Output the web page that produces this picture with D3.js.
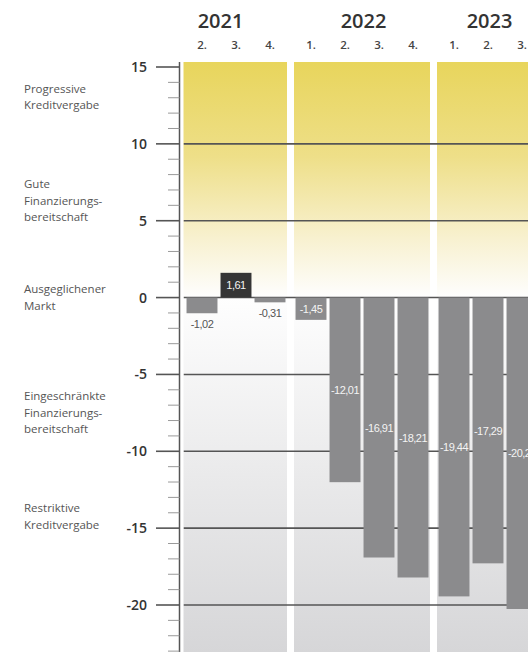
<!DOCTYPE html>
<html>
<head>
<meta charset="utf-8">
<script src="https://cdn.jsdelivr.net/npm/d3@7"></script>
<style>
  html, body { margin: 0; padding: 0; background: #fff; }
  svg { display: block; }
</style>
</head>
<body>
<svg id="chart" width="528" height="652"></svg>
<script>
// Kreditvergabe-Index nach Quartalen
const years = ["2021", "2022", "2023"];
const quarterNames = ["1.", "2.", "3.", "4."];

const periodYear    = ["2021", "2021", "2021", "2022", "2022", "2022", "2022", "2023", "2023", "2023"];
const periodQuarter = ["2.",   "3.",   "4.",   "1.",   "2.",   "3.",   "4.",   "1.",   "2.",   "3."];
const values        = [-1.02,  1.61,  -0.31,  -1.45, -12.01, -16.91, -18.21, -19.44, -17.29, -20.26];

const yTicks = [15, 10, 5, 0, -5, -10, -15, -20];
const yMinorTicks = d3.range(-23, 16, 1);

const zoneLabels = [
  ["Progressive", "Kreditvergabe"],
  ["Gute", "Finanzierungs-", "bereitschaft"],
  ["Ausgeglichener", "Markt"],
  ["Eingeschränkte", "Finanzierungs-", "bereitschaft"],
  ["Restriktive", "Kreditvergabe"]
];
const zoneLevels = [13.05, 6.3, 0, -7.5, -14.25];

const W = 528, H = 652;
const svg = d3.select("#chart");

const y = d3.scaleLinear().domain([-20, 15]).range([605, 67]);
const plotTop = 62, plotBottom = H;
const axisX = 179.5, clipLeft = 183.5;

// Jahre als äußere Bänder, Quartale als innere Bänder
const yearX = d3.scaleBand().domain(years).range([151, 573]).paddingInner(7 / 143);
const qX = d3.scaleBand().domain(quarterNames).range([0, yearX.bandwidth()])
  .paddingInner(0.09).paddingOuter(0.045);

const locale = d3.formatLocale({ decimal: ",", thousands: ".", grouping: [3], currency: ["", " €"], minus: "-" });
const fmtVal = locale.format(".2f");
const fmtTick = locale.format("d");

const defs = svg.append("defs");
const grad = defs.append("linearGradient").attr("id", "bg")
  .attr("gradientUnits", "userSpaceOnUse")
  .attr("x1", 0).attr("x2", 0).attr("y1", plotTop).attr("y2", plotBottom);
const zeroOff = (y(0) - plotTop) / (plotBottom - plotTop);
grad.append("stop").attr("offset", 0).attr("stop-color", "#e8d55c");
grad.append("stop").attr("offset", zeroOff * 0.4).attr("stop-color", "#eedf88");
grad.append("stop").attr("offset", zeroOff * 0.75).attr("stop-color", "#f8f1d0");
grad.append("stop").attr("offset", zeroOff).attr("stop-color", "#fefefe");
grad.append("stop").attr("offset", 1).attr("stop-color", "#d6d6d8");

defs.append("clipPath").attr("id", "plotClip")
  .append("rect").attr("x", clipLeft).attr("y", 0).attr("width", W - clipLeft).attr("height", H);

const plot = svg.append("g").attr("clip-path", "url(#plotClip)");

// Jahresfelder
plot.selectAll("rect.panel").data(years).join("rect")
  .attr("class", "panel")
  .attr("x", d => yearX(d))
  .attr("y", plotTop)
  .attr("width", yearX.bandwidth())
  .attr("height", plotBottom - plotTop)
  .attr("fill", "url(#bg)");

// Gitterlinien
plot.selectAll("line.grid").data(yTicks.filter(t => t < 15)).join("line")
  .attr("class", "grid")
  .attr("x1", clipLeft).attr("x2", W)
  .attr("y1", d => y(d)).attr("y2", d => y(d))
  .attr("stroke", "#555").attr("stroke-width", 1.6);

const bx = i => yearX(periodYear[i]) + qX(periodQuarter[i]);

// Balken
plot.selectAll("rect.bar").data(values).join("rect")
  .attr("class", "bar")
  .attr("x", (d, i) => bx(i))
  .attr("width", qX.bandwidth())
  .attr("y", d => y(Math.max(0, d)))
  .attr("height", d => Math.abs(y(d) - y(0)))
  .attr("fill", d => d >= 0 ? "#353535" : "#8b8b8d");

// Wertbeschriftungen: kleine Balken außen, sonst mittig im Balken
const inside = d => Math.abs(y(d) - y(0)) > 18;
plot.selectAll("text.val").data(values).join("text")
  .attr("class", "val")
  .attr("x", (d, i) => bx(i) + qX.bandwidth() / 2)
  .attr("y", d => inside(d) ? (y(d) + y(0)) / 2 + 4.2 : y(d) + 14.5)
  .attr("text-anchor", "middle")
  .attr("font-family", "'Liberation Sans', sans-serif")
  .attr("font-size", 11)
  .attr("letter-spacing", -0.5)
  .attr("fill", d => inside(d) ? "#f4f4f4" : "#555")
  .text(d => fmtVal(d));

// y-Achse
const axis = svg.append("g");
axis.append("line")
  .attr("x1", axisX).attr("x2", axisX).attr("y1", plotTop).attr("y2", H)
  .attr("stroke", "#555").attr("stroke-width", 1.5);
axis.selectAll("line.minor").data(yMinorTicks.filter(t => t % 5 !== 0)).join("line")
  .attr("class", "minor")
  .attr("x1", 168).attr("x2", axisX)
  .attr("y1", d => y(d)).attr("y2", d => y(d))
  .attr("stroke", "#9a9a9a").attr("stroke-width", 1);
axis.selectAll("line.major").data(yTicks).join("line")
  .attr("class", "major")
  .attr("x1", 156).attr("x2", axisX)
  .attr("y1", d => y(d)).attr("y2", d => y(d))
  .attr("stroke", "#555").attr("stroke-width", 1.6);
axis.selectAll("text.tick").data(yTicks).join("text")
  .attr("class", "tick")
  .attr("x", 147).attr("y", d => y(d) + 5)
  .attr("text-anchor", "end")
  .attr("font-family", "'Open Sans', sans-serif")
  .attr("font-weight", 600)
  .attr("font-size", 14)
  .attr("fill", "#333")
  .text(d => fmtTick(d));

// Zonenbeschriftungen links
const zones = svg.append("g");
zoneLabels.forEach((lines, k) => {
  const lh = 16.5;
  const cy = y(zoneLevels[k]);
  const t = zones.append("text")
    .attr("font-family", "'Open Sans', sans-serif")
    .attr("font-size", 11.5)
    .attr("fill", "#555");
  lines.forEach((ln, j) => {
    t.append("tspan")
      .attr("x", 24)
      .attr("y", cy + 4 + (j - (lines.length - 1) / 2) * lh)
      .text(ln);
  });
});

// Quartals- und Jahreskopf
const head = svg.append("g").attr("font-family", "'Open Sans', sans-serif").attr("fill", "#333");
head.selectAll("text.q").data(values).join("text")
  .attr("class", "q")
  .attr("x", (d, i) => bx(i) + qX.bandwidth() / 2)
  .attr("y", 49)
  .attr("text-anchor", "middle")
  .attr("font-size", 11.5)
  .attr("font-weight", 600)
  .attr("fill", "#444")
  .text((d, i) => periodQuarter[i]);

head.selectAll("text.year").data(years).join("text")
  .attr("class", "year")
  .attr("x", yr => {
    const qs = periodQuarter.filter((q, i) => periodYear[i] === yr);
    const last = qs[qs.length - 1];
    return yearX(yr) + (qX(last) + qX.step() + qX.step() * qX.paddingOuter()) / 2;
  })
  .attr("y", 28)
  .attr("text-anchor", "middle")
  .attr("font-size", 20)
  .attr("font-weight", 600)
  .text(d => d);
</script>
</body>
</html>
